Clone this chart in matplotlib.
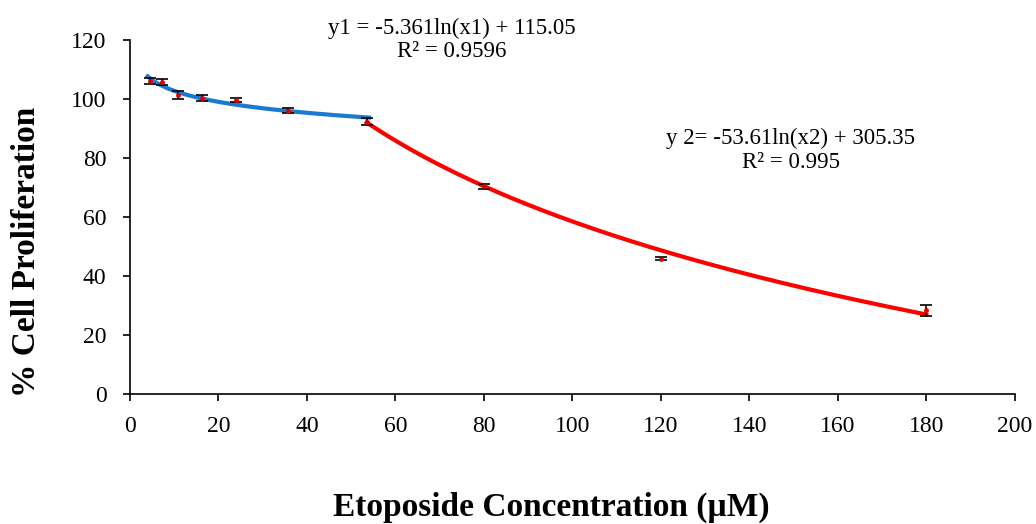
import matplotlib.pyplot as plt
import numpy as np

plt.rcParams['font.family'] = ['Liberation Serif', 'DejaVu Serif']

# measured points
conc = [4.5, 7.2, 10.8, 16.2, 24.0, 35.8, 53.5, 80.0, 120.0, 180.0]
prolif = [106.2, 105.8, 101.3, 100.2, 99.6, 96.0, 92.3, 70.4, 45.9, 28.4]
err = [1.0, 1.0, 1.3, 1.0, 0.8, 0.8, 1.2, 0.8, 0.6, 1.8]

# log fits as printed on the chart
fit1 = (-5.361, 115.05)
fit1_range = (4.0, 54.0)
fit2 = (-53.61, 305.35)
fit2_range = (53.5, 180.0)

eq1 = "y1 = -5.361ln(x1) + 115.05\nR² = 0.9596"
eq2 = "y 2= -53.61ln(x2) + 305.35\nR² = 0.995"

fig = plt.figure(figsize=(10.36, 5.24), dpi=100)
ax = fig.add_axes([0.1255, 0.248, 0.854, 0.676])

# trend lines
x1 = np.linspace(fit1_range[0], fit1_range[1], 200)
ax.plot(x1, fit1[0] * np.log(x1) + fit1[1], color='#1a7ad0', linewidth=3, zorder=2)
x2 = np.linspace(fit2_range[0], fit2_range[1], 300)
ax.plot(x2, fit2[0] * np.log(x2) + fit2[1], color='#ff0000', linewidth=3, zorder=2)

# data with error bars
ax.errorbar(conc, prolif, yerr=err, fmt='o', color='#e00000', markersize=2.5,
            ecolor='black', elinewidth=1.2, capsize=4, capthick=1.2, zorder=3)

ax.set_xlim(0, 200)
ax.set_ylim(0, 120)
ax.set_xticks(np.arange(0, 201, 20))
ax.set_yticks(np.arange(0, 121, 20))
ax.tick_params(direction='out', length=5, width=1.2, labelsize=17)
ax.tick_params(axis='x', pad=11)
ax.tick_params(axis='y', pad=12)
for s in ['top', 'right']:
    ax.spines[s].set_visible(False)
for s in ['left', 'bottom']:
    ax.spines[s].set_linewidth(1.2)

ax.set_xlabel("Etoposide Concentration (µM)", fontsize=24, fontweight='bold')
ax.set_ylabel("% Cell Proliferation", fontsize=24, fontweight='bold')
ax.xaxis.set_label_coords(0.476, -0.275)
ax.yaxis.set_label_coords(-0.10, 0.40)

ax.text(0.364, 1.0, eq1, transform=ax.transAxes, ha='center', va='center',
        fontsize=16.5, linespacing=1.15)
ax.text(0.747, 0.688, eq2, transform=ax.transAxes, ha='center', va='center',
        fontsize=16.5, linespacing=1.15)

fig.savefig('out.png', dpi=100)
